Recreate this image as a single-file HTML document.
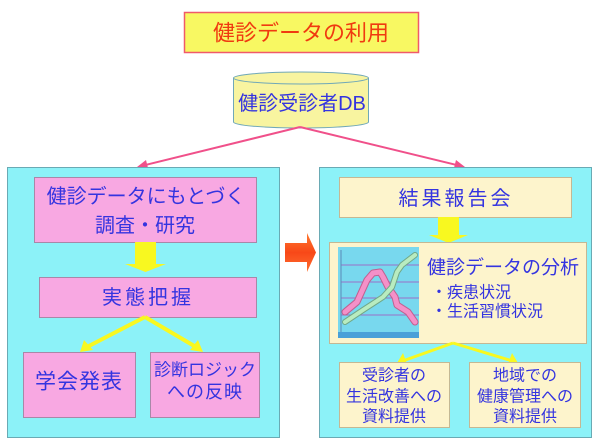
<!DOCTYPE html>
<html><head><meta charset="utf-8">
<style>
html,body{margin:0;padding:0;background:#fff;}
svg{display:block;}
text{font-family:"Liberation Sans","Noto Sans CJK JP",sans-serif;}
</style></head>
<body>
<svg width="600" height="448" viewBox="0 0 600 448" xmlns="http://www.w3.org/2000/svg">
<defs>
<linearGradient id="og" x1="0" y1="0" x2="0" y2="1">
<stop offset="0" stop-color="#ff7a30"/><stop offset="0.5" stop-color="#f84818"/><stop offset="1" stop-color="#ff7030"/>
</linearGradient>
</defs>
<!-- Title -->
<rect x="184.5" y="12.5" width="234" height="40" fill="#f8f862" stroke="#f05a6a" stroke-width="1.5"/>
<text x="301" y="33" font-size="22" fill="#f03a10" text-anchor="middle" dominant-baseline="central">健診データの利用</text>

<!-- Cylinder -->
<path d="M233.5,78 L233.5,122 A67.5,6 0 0 0 368.5,122 L368.5,78" fill="#f8f4a0" stroke="#70a8b8" stroke-width="1"/>
<ellipse cx="301" cy="78" rx="67.5" ry="6" fill="#f8f4a0" stroke="#70a8b8" stroke-width="1"/>
<text x="302" y="104" font-size="20" fill="#3434e0" text-anchor="middle" dominant-baseline="central">健診受診者DB</text>

<!-- pink arrows -->
<line x1="300" y1="127" x2="142" y2="165.8" stroke="#f0508a" stroke-width="2"/>
<polygon points="137,167 146,160 148,168" fill="#f0508a"/>
<line x1="300" y1="127" x2="460" y2="165.8" stroke="#f0508a" stroke-width="2"/>
<polygon points="465,167 454,168 456,160" fill="#f0508a"/>

<!-- Left panel -->
<rect x="7.5" y="167.5" width="272" height="270" fill="#8cf2f8" stroke="#6aaab4" stroke-width="1"/>
<rect x="34.5" y="177.5" width="222" height="65" fill="#f8a8e2" stroke="#a888a8" stroke-width="1"/>
<text x="146" y="197" font-size="20" fill="#3434e0" text-anchor="middle" dominant-baseline="central">健診データにもとづく</text>
<text x="145" y="226" font-size="20" fill="#3434e0" text-anchor="middle" dominant-baseline="central">調査・研究</text>
<polygon points="135,242 156,242 156,264 166,264 145.5,272 125,264 135,264" fill="#f8f820"/>
<rect x="39.5" y="277.5" width="217" height="40" fill="#f8a8e2" stroke="#a888a8" stroke-width="1"/>
<text x="148" y="298" font-size="20" letter-spacing="3" fill="#3434e0" text-anchor="middle" dominant-baseline="central">実態把握</text>
<!-- split arrows -->
<line x1="145" y1="317" x2="87" y2="347" stroke="#f8f820" stroke-width="4"/>
<polygon points="80,352 84,340 93,350" fill="#f8f820"/>
<line x1="145" y1="317" x2="196" y2="347" stroke="#f8f820" stroke-width="4"/>
<polygon points="203,352 190,350 198,340" fill="#f8f820"/>
<rect x="23.5" y="352.5" width="112" height="65" fill="#f8a8e2" stroke="#a888a8" stroke-width="1"/>
<text x="79" y="382" font-size="21" letter-spacing="1" fill="#3434e0" text-anchor="middle" dominant-baseline="central">学会発表</text>
<rect x="150.5" y="352.5" width="109" height="65" fill="#f8a8e2" stroke="#a888a8" stroke-width="1"/>
<text x="205" y="370" font-size="17" fill="#3434e0" text-anchor="middle" dominant-baseline="central">診断ロジック</text>
<text x="205" y="392" font-size="18" letter-spacing="1" fill="#3434e0" text-anchor="middle" dominant-baseline="central">への反映</text>

<!-- Orange arrow -->
<polygon points="285,243 307,243 307,233 316,252.5 307,272 307,262 285,262" fill="url(#og)"/>

<!-- Right panel -->
<rect x="319.5" y="167.5" width="272" height="270" fill="#8cf2f8" stroke="#6aaab4" stroke-width="1"/>
<rect x="339.5" y="177.5" width="232" height="40" fill="#fdf4cc" stroke="#c4b894" stroke-width="1"/>
<text x="456" y="199" font-size="20" letter-spacing="3" fill="#3434e0" text-anchor="middle" dominant-baseline="central">結果報告会</text>
<polygon points="438,217 459,217 459,235 468,235 448.5,243 429,235 438,235" fill="#f8f820"/>
<rect x="329.5" y="242.5" width="257" height="101" fill="#fdf4cc" stroke="#c4b894" stroke-width="1"/>
<!-- chart -->
<rect x="338" y="247" width="81" height="91" fill="#78d8ee"/>
<g stroke="#9a70c8" stroke-width="1">
<line x1="341" y1="265" x2="419" y2="265"/>
<line x1="341" y1="282" x2="419" y2="282"/>
<line x1="341" y1="298" x2="419" y2="298"/>
<line x1="341" y1="315" x2="419" y2="315"/>
</g>
<line x1="341" y1="250" x2="341" y2="332" stroke="#5a8ab8" stroke-width="1"/>
<rect x="338" y="332" width="81" height="6" fill="#4aa0d8"/>
<polyline points="345,312 357,302 367,280 373,273 380,272 383,277 388,287 395,297 397,305 408,312 415,322" fill="none" stroke="#c06090" stroke-width="7" stroke-linejoin="round" stroke-linecap="round"/>
<polyline points="345,312 357,302 367,280 373,273 380,272 383,277 388,287 395,297 397,305 408,312 415,322" fill="none" stroke="#f490c8" stroke-width="5" stroke-linejoin="round" stroke-linecap="round"/>
<polyline points="345,322 363,310 383,297 392,287 397,272 402,265 415,255" fill="none" stroke="#70a888" stroke-width="6" stroke-linejoin="round" stroke-linecap="round"/>
<polyline points="345,322 363,310 383,297 392,287 397,272 402,265 415,255" fill="none" stroke="#b8ecc0" stroke-width="4" stroke-linejoin="round" stroke-linecap="round"/>
<text x="427" y="268" font-size="19" fill="#3434e0" dominant-baseline="central">健診データの分析</text>
<text x="431" y="293" font-size="16" fill="#3434e0" dominant-baseline="central">・疾患状況</text>
<text x="431" y="312" font-size="16" fill="#3434e0" dominant-baseline="central">・生活習慣状況</text>
<!-- split arrows right -->
<line x1="453" y1="343" x2="404" y2="360.5" stroke="#f8f820" stroke-width="3"/>
<polygon points="397,363 403,353 407,364" fill="#f8f820"/>
<line x1="453" y1="343" x2="511" y2="360.5" stroke="#f8f820" stroke-width="3"/>
<polygon points="518,363 508,364 512,353" fill="#f8f820"/>
<rect x="339.5" y="362.5" width="110" height="65" fill="#fdf4cc" stroke="#c4b894" stroke-width="1"/>
<text x="394" y="376" font-size="16" fill="#3434e0" text-anchor="middle" dominant-baseline="central">受診者の</text>
<text x="394" y="397" font-size="16" fill="#3434e0" text-anchor="middle" dominant-baseline="central">生活改善への</text>
<text x="394" y="417" font-size="16" fill="#3434e0" text-anchor="middle" dominant-baseline="central">資料提供</text>
<rect x="469.5" y="362.5" width="111" height="65" fill="#fdf4cc" stroke="#c4b894" stroke-width="1"/>
<text x="525" y="376" font-size="16" fill="#3434e0" text-anchor="middle" dominant-baseline="central">地域での</text>
<text x="525" y="397" font-size="16" fill="#3434e0" text-anchor="middle" dominant-baseline="central">健康管理への</text>
<text x="525" y="417" font-size="16" fill="#3434e0" text-anchor="middle" dominant-baseline="central">資料提供</text>
</svg>
</body></html>
